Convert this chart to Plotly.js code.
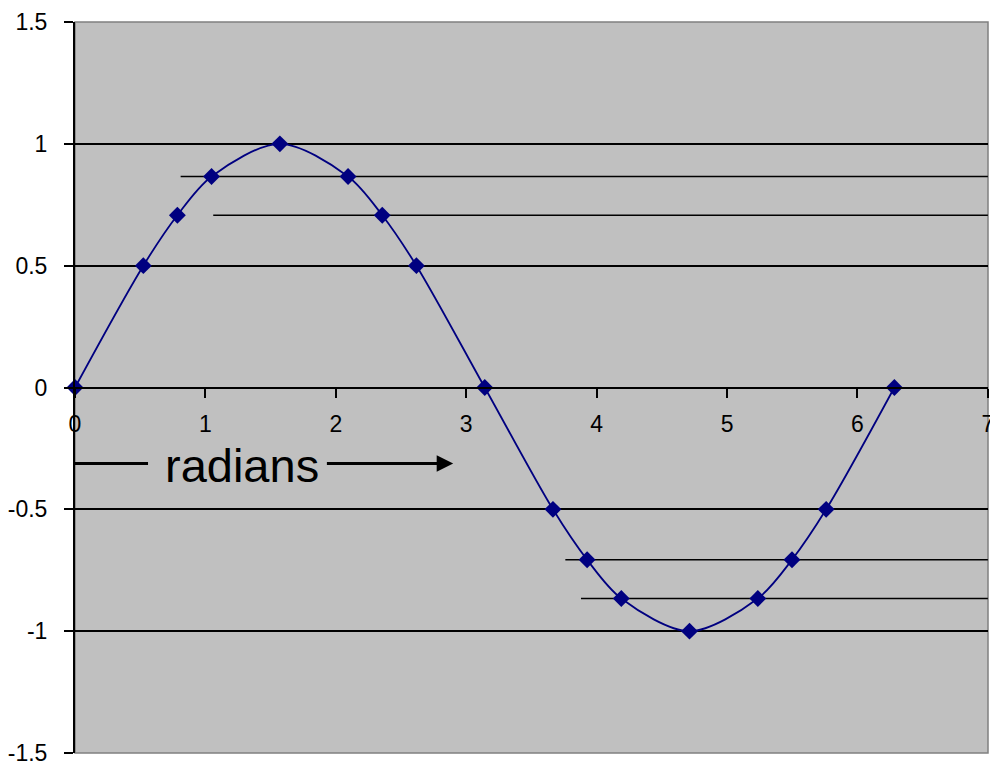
<!DOCTYPE html>
<html>
<head>
<meta charset="utf-8">
<script src="https://cdn.plot.ly/plotly-3.0.1.min.js"></script>
<style>
  html, body { margin: 0; padding: 0; background: #ffffff; }
  #chart { width: 990px; height: 764px; }
</style>
</head>
<body>
<div id="chart"></div>
<script>
// Angle in radians and the sine value at each plotted point
const radians = [0, 0.524, 0.785, 1.047, 1.571, 2.094, 2.356, 2.618, 3.142,
                 3.665, 3.927, 4.189, 4.712, 5.236, 5.498, 5.760, 6.283];
const sineValues = [0, 0.5, 0.707, 0.866, 1, 0.866, 0.707, 0.5, 0,
                    -0.5, -0.707, -0.866, -1, -0.866, -0.707, -0.5, 0];

// Extra horizontal guide levels and the x where each guide starts
const guideLevels = [0.866, 0.707, -0.707, -0.866];
const guideStarts = [0.81, 1.06, 3.76, 3.88];

// Axis ticks
const xTickVals = [0, 1, 2, 3, 4, 5, 6, 7];
const xTickText = ['0', '1', '2', '3', '4', '5', '6', '7'];
const yTickVals = [1.5, 1, 0.5, 0, -0.5, -1, -1.5];
const yTickText = ['1.5', '1', '0.5', '0', '-0.5', '-1', '-1.5'];

const NAVY = '#000080';
const FONT = 'Liberation Sans, Arial, sans-serif';

const trace = {
  x: radians,
  y: sineValues,
  type: 'scatter',
  mode: 'lines+markers',
  line: { color: NAVY, width: 1.8, shape: 'spline', smoothing: 0.9 },
  marker: { symbol: 'diamond', size: 13, color: NAVY },
  cliponaxis: false,
  hoverinfo: 'x+y'
};

const shapes = [];
guideLevels.forEach((lvl, i) => {
  shapes.push({
    type: 'line', xref: 'x', yref: 'y',
    x0: guideStarts[i], x1: 7.0, y0: lvl, y1: lvl,
    line: { color: '#000000', width: 1.6 },
    layer: 'below'
  });
});

// Plot-area frame (top, right, bottom edges)
shapes.push({
  type: 'rect', xref: 'paper', yref: 'paper',
  x0: 0, x1: 1, y0: 0, y1: 1,
  line: { color: '#808080', width: 1.5 },
  layer: 'below'
});

// "radians" label with its leading rule and arrow
const labelY = -0.312;
shapes.push({
  type: 'line', xref: 'x', yref: 'y',
  x0: -0.04, x1: 0.56, y0: labelY, y1: labelY,
  line: { color: '#000000', width: 3 }
});

const annotations = [
  {
    x: 1.28, y: labelY, xref: 'x', yref: 'y',
    text: 'radians', showarrow: false,
    font: { family: FONT, size: 47, color: '#000000' },
    xanchor: 'center', yanchor: 'middle', yshift: -2
  },
  {
    x: 2.9, y: labelY, xref: 'x', yref: 'y',
    ax: 1.92, ay: labelY, axref: 'x', ayref: 'y',
    text: '', showarrow: true,
    arrowhead: 2, arrowsize: 1.1, arrowwidth: 3, arrowcolor: '#000000'
  }
];

const layout = {
  width: 990,
  height: 764,
  margin: { l: 75, r: 2, t: 22, b: 11, pad: 0 },
  paper_bgcolor: '#ffffff',
  plot_bgcolor: '#c0c0c0',
  showlegend: false,
  font: { family: FONT, size: 23, color: '#000000' },
  xaxis: {
    range: [0, 7.001],
    tickvals: xTickVals,
    ticktext: xTickText,
    anchor: 'free',
    position: 0.5,
    showgrid: false,
    zeroline: false,
    showline: true,
    linecolor: '#000000',
    linewidth: 2,
    ticks: 'outside',
    ticklen: 9,
    tickwidth: 2,
    tickcolor: '#000000',
    ticklabelstandoff: 7,
    ticklabeloverflow: 'allow',
    tickfont: { family: FONT, size: 23, color: '#000000' },
    fixedrange: true
  },
  yaxis: {
    range: [-1.5, 1.5],
    domain: [0, 1],
    tickvals: yTickVals,
    ticktext: yTickText,
    showgrid: true,
    gridcolor: '#000000',
    gridwidth: 1.8,
    zeroline: false,
    showline: true,
    linecolor: '#000000',
    linewidth: 2,
    ticks: 'outside',
    ticklen: 9,
    tickwidth: 2,
    tickcolor: '#000000',
    ticklabelstandoff: 12,
    ticklabeloverflow: 'allow',
    tickfont: { family: FONT, size: 23, color: '#000000' },
    fixedrange: true
  },
  shapes: shapes,
  annotations: annotations
};

Plotly.newPlot('chart', [trace], layout, { displayModeBar: false, staticPlot: true });
</script>
</body>
</html>
